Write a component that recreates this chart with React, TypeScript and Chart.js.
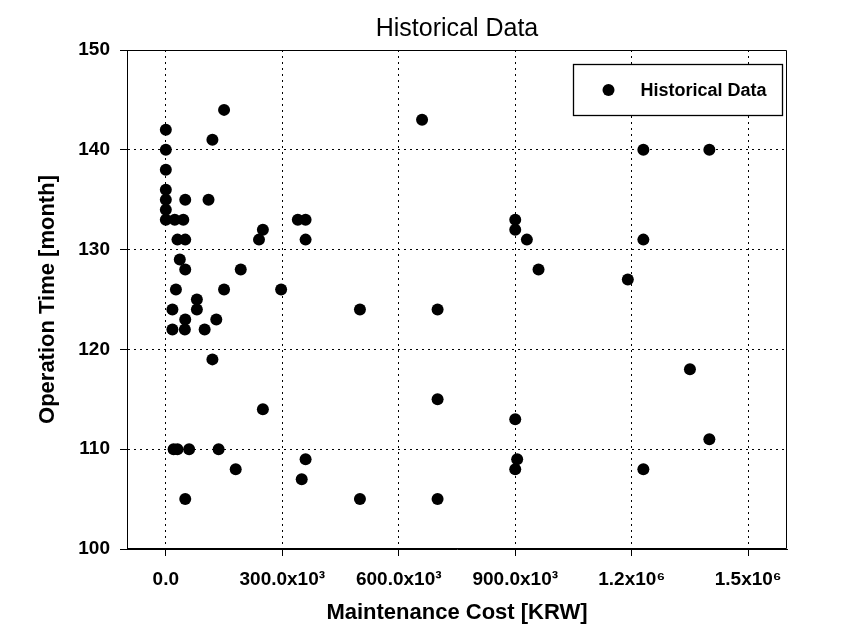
import { useEffect, useRef } from "react";
import { Chart, registerables } from "chart.js";

Chart.register(...registerables);

// ---- Data ----
const maintenanceCost: number[] = [
  0, 0, 0, 0, 0, 0, 0,
  150000, 120000, 50000, 110000,
  23000, 45000, 340000, 360000,
  250000, 240000, 30000, 50000, 360000,
  36000, 50000, 193000,
  26000, 150000, 297000,
  80000, 80000, 17000,
  50000, 130000,
  17000, 49000, 100000,
  120000, 250000,
  20000, 30000, 60000, 136000,
  180000, 360000, 350000, 50000,
  500000, 500000,
  700000, 700000, 700000,
  660000,
  900000, 900000, 930000, 960000,
  900000, 905000, 900000,
  1190000,
  1230000, 1230000, 1230000,
  1400000, 1400000,
  1350000,
];
const operationTime: number[] = [
  142, 140, 138, 136, 135, 134, 133,
  144, 141, 135, 135,
  133, 133, 133, 133,
  132, 131, 131, 131, 131,
  129, 128, 128,
  126, 126, 126,
  125, 124, 124,
  123, 123,
  122, 122, 122,
  119, 114,
  110, 110, 110, 110,
  108, 109, 107, 105,
  124, 105,
  124, 115, 105,
  143,
  133, 132, 131, 128,
  113, 109, 108,
  127,
  140, 131, 108,
  140, 111,
  118,
];

const xTickValues = [0, 300000, 600000, 900000, 1200000, 1500000];
const xTickLabels = ["0.0", "300.0x10³", "600.0x10³", "900.0x10³", "1.2x10⁶", "1.5x10⁶"];
const yTickValues = [100, 110, 120, 130, 140, 150];
const xMin = -100000;
const xMax = 1600000;
const yMin = 100;
const yMax = 150;

const chartTitle = "Historical Data";
const seriesLabel = "Historical Data";
const xTitle = "Maintenance Cost [KRW]";
const yTitle = "Operation Time [month]";

const FONT = '"Liberation Sans", Arial, Helvetica, sans-serif';

const frameAndLegend = {
  id: "frameAndLegend",
  afterDatasetsDraw(chart: any) {
    const { ctx, chartArea } = chart;
    const { left, right, top, bottom } = chartArea;
    ctx.save();
    ctx.strokeStyle = "#000";
    ctx.lineWidth = 1;
    ctx.setLineDash([]);
    const l = Math.round(left) + 0.5;
    const t = Math.round(top) + 0.5;
    const r = Math.round(right) - 0.5;
    const b = Math.round(bottom) - 0.5;
    ctx.beginPath();
    ctx.moveTo(l, b);
    ctx.lineTo(l, t);
    ctx.lineTo(r, t);
    ctx.lineTo(r, b);
    ctx.lineTo(l, b);
    ctx.stroke();

    // legend box
    const bx = Math.round(right) - 214 + 0.5;
    const by = Math.round(top) + 14 + 0.5;
    const bw = 209;
    const bh = 51;
    ctx.fillStyle = "#fff";
    ctx.fillRect(bx, by, bw, bh);
    ctx.lineWidth = 1.3;
    ctx.strokeRect(bx, by, bw, bh);
    const cy = by + bh / 2;
    ctx.fillStyle = "#000";
    ctx.beginPath();
    ctx.arc(bx + 35, cy, 6, 0, Math.PI * 2);
    ctx.fill();
    ctx.font = `bold 18px ${FONT}`;
    ctx.textBaseline = "middle";
    ctx.textAlign = "left";
    ctx.fillText(chart.data.datasets[0].label, bx + 67, cy + 1);
    ctx.restore();
  },
};

export default function App() {
  const canvasRef = useRef<HTMLCanvasElement | null>(null);

  useEffect(() => {
    const canvas = canvasRef.current;
    if (!canvas) return;
    const points = maintenanceCost.map((x, i) => ({ x, y: operationTime[i] }));
    const gridOpts = {
      color: "#000",
      lineWidth: 1,
      borderDash: [2, 4],
      tickBorderDash: [],
      tickLength: 7,
      tickColor: "#000",
      tickWidth: 1,
    };
    const borderOpts = { display: true, color: "#000", width: 1, dash: [2, 4] };
    const chart = new Chart(canvas, {
      type: "scatter",
      data: {
        datasets: [
          {
            label: seriesLabel,
            data: points,
            backgroundColor: "#000",
            borderColor: "#000",
            borderWidth: 0,
            pointRadius: 6,
            pointHoverRadius: 6,
          },
        ],
      },
      options: {
        responsive: false,
        animation: false,
        layout: { padding: { left: 0, right: 77, top: 0, bottom: 0 } },
        plugins: {
          legend: { display: false },
          tooltip: { enabled: false },
          title: {
            display: true,
            text: chartTitle,
            fullSize: false,
            color: "#000",
            font: { family: FONT, size: 25, weight: "normal" },
            padding: { top: 14, bottom: 6 },
          },
        },
        scales: {
          x: {
            type: "linear",
            min: xMin,
            max: xMax,
            afterBuildTicks: (axis: any) => {
              axis.ticks = xTickValues.map((v) => ({ value: v }));
            },
            afterFit: (axis: any) => {
              axis.height = 93;
            },
            ticks: {
              autoSkip: false,
              maxRotation: 0,
              color: "#000",
              padding: 12,
              font: { family: FONT, size: 19, weight: "bold" },
              callback: (v: any) => {
                const i = xTickValues.indexOf(Number(v));
                return i >= 0 ? xTickLabels[i] : "";
              },
            },
            grid: gridOpts,
            border: borderOpts,
            title: {
              display: true,
              text: xTitle,
              color: "#000",
              font: { family: FONT, size: 22, weight: "bold" },
              padding: { top: 0, bottom: 16 },
            },
          } as any,
          y: {
            type: "linear",
            min: yMin,
            max: yMax,
            afterBuildTicks: (axis: any) => {
              axis.ticks = yTickValues.map((v) => ({ value: v }));
            },
            afterFit: (axis: any) => {
              axis.width = 127;
            },
            ticks: {
              color: "#000",
              padding: 10,
              font: { family: FONT, size: 19, weight: "bold" },
            },
            grid: gridOpts,
            border: borderOpts,
            title: {
              display: true,
              text: yTitle,
              color: "#000",
              font: { family: FONT, size: 22, weight: "bold" },
              padding: { top: 35, bottom: 0 },
            },
          } as any,
        },
      },
      plugins: [frameAndLegend],
    });
    return () => chart.destroy();
  }, []);

  return (
    <div style={{ position: "absolute", left: 0, top: 0, width: 864, height: 642, background: "#fff" }}>
      <canvas ref={canvasRef} width={864} height={642} style={{ display: "block" }} />
    </div>
  );
}
